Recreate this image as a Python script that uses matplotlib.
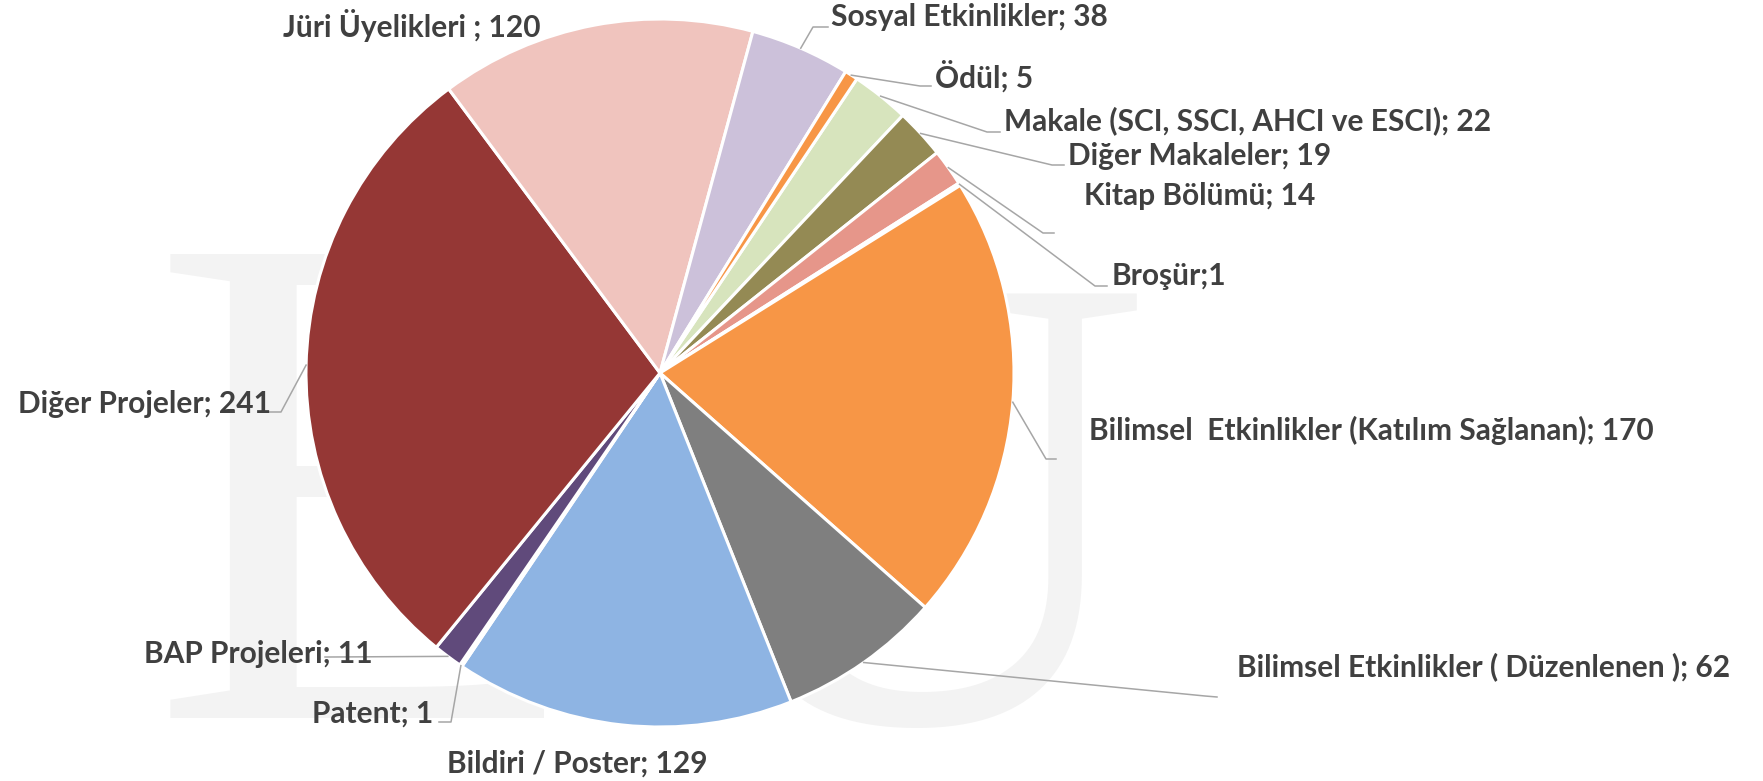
import numpy as np
import matplotlib.pyplot as plt

W, H = 1763, 781

names = ['Makale (SCI, SSCI, AHCI ve ESCI)', 'Diğer Makaleler', 'Kitap Bölümü', 'Broşür',
         'Bilimsel  Etkinlikler (Katılım Sağlanan)', 'Bilimsel Etkinlikler ( Düzenlenen )',
         'Bildiri / Poster', 'Patent', 'BAP Projeleri', 'Diğer Projeler',
         'Jüri Üyelikleri', 'Sosyal Etkinlikler', 'Ödül']
values = [22, 19, 14, 1, 170, 62, 129, 1, 11, 241, 120, 38, 5]
seps = ['; ', '; ', '; ', ';', '; ', '; ', '; ', '; ', '; ', '; ', ' ; ', '; ', '; ']
colors = ['#D7E4BD', '#948A54', '#E6968A', '#DCE6F2', '#F79646', '#7F7F7F',
          '#8EB4E3', '#F9A65A', '#604A7B', '#953735', '#F0C4BE', '#CCC1DA', '#F79646']

# label layout in image pixels: text left x, text center y, elbow point, end point
text_pos = [(1004, 121), (1068, 156), (1084, 196), (1112, 276), (1089, 430), (1237, 667),
            (447, 764), (312, 714), (144, 654), (18, 404), (283, 25), (831, 17), (935, 76)]
elbows = [(987, 132), (1052, 165), (1043, 233), (1095, 286), (1046, 459), (1205, 696),
          None, (451, 722), (330, 657), (281, 412), None, (813, 27), (920, 86)]
ends = [(1000, 132), (1064, 165), (1054, 233), (1107, 286), (1056, 459), (1217, 697),
        None, (439, 722), (325, 657), (269, 412), None, (828, 27), (931, 86)]

cx, cy, r = 660, H - 373, 354
fam = ['Lato', 'DejaVu Sans']

fig = plt.figure(figsize=(W / 100, H / 100), dpi=100)
ax = fig.add_axes([0, 0, 1, 1])

wedges, _ = ax.pie(values, colors=colors, startangle=90 - 33.8, counterclock=False,
                   center=(cx, cy), radius=r,
                   wedgeprops=dict(edgecolor='white', linewidth=2.2))
for w in wedges:
    w.set_zorder(3)

# faint watermark letters
ax.text(150, H - 718, 'E', fontsize=510, family='Liberation Serif', color='#F3F3F3',
        ha='left', va='baseline', zorder=0)
ax.text(1150, H - 722, 'U', fontsize=470, family='Liberation Serif', color='#F3F3F3',
        ha='right', va='baseline', zorder=0)

for i, w in enumerate(wedges):
    label = f'{names[i]}{seps[i]}{values[i]}'
    tx, ty = text_pos[i]
    ax.text(tx, H - ty, label, fontsize=21.5, fontweight='bold', family=fam,
            color='#404040', ha='left', va='center', zorder=5)
    if elbows[i] is not None:
        mid = np.deg2rad((w.theta1 + w.theta2) / 2)
        sx, sy = cx + r * np.cos(mid), cy + r * np.sin(mid)
        ex, ey = elbows[i]
        fx, fy = ends[i]
        ax.plot([sx, ex, fx], [sy, H - ey, H - fy], color='#A6A6A6', lw=1.1, zorder=4)

ax.set_xlim(0, W)
ax.set_ylim(0, H)
ax.set_aspect('auto')
ax.axis('off')

fig.savefig('out.png', dpi=100, facecolor='white')
